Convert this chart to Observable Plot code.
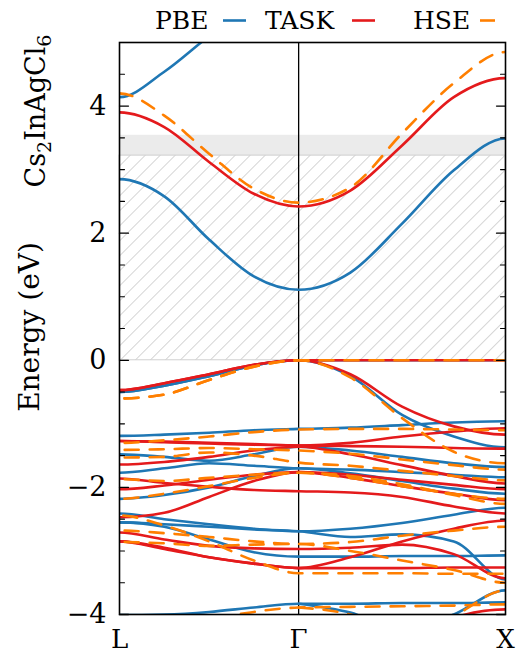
<!DOCTYPE html>
<html><head><meta charset="utf-8">
<script src="https://cdn.jsdelivr.net/npm/d3@7"></script>
<script src="https://cdn.jsdelivr.net/npm/@observablehq/plot@0.6"></script>
<style>
body{margin:0;background:#fff;font-family:"DejaVu Serif",serif;}
#wrap{position:relative;width:520px;height:656px;}
#legend{position:absolute;left:0;top:0;width:520px;height:38px;}
#chart{position:absolute;left:0;top:0;}
</style></head><body>
<div id="wrap"><div id="chart"></div><div id="legend"></div></div>
<script>
// ---- data ----
const kLabels = ["L", "Γ", "X"];
const kTicks = [0, 0.866, 1.866];
const kPoints = [0, 0.2165, 0.433, 0.6495, 0.866, 1.116, 1.366, 1.616, 1.866];
const methods = ["PBE", "TASK", "HSE"];
const colors = ["#1f77b4", "#e41a1c", "#ff7f00"];
const expGap = [3.22, 3.54];
const yMajor = [-4, -2, 0, 2, 4];
const yMinor = [-3.5, -3, -2.5, -1.5, -1, -0.5, 0.5, 1, 1.5, 2.5, 3, 3.5, 4.5];
const material = ["Cs", "2", "InAgCl", "6"];

// energies (eV) at kPoints: L ... Γ ... X
const pbeBands = [
  [2.85, 2.58, 1.90, 1.32, 1.11, 1.38, 2.15, 2.99, 3.49],
  [4.14, 4.54, 5.10, 5.60, 5.80, 5.90, 5.90, 5.90, 5.90],
  [-0.50, -0.40, -0.25, -0.08, 0, 0, 0, 0, 0],
  [-0.50, -0.40, -0.25, -0.08, 0, -0.25, -0.86, -1.20, -1.37],
  [-1.19, -1.17, -1.14, -1.10, -1.08, -1.06, -1.02, -0.98, -0.96],
  [-1.48, -1.52, -1.58, -1.48, -1.36, -1.42, -1.52, -1.62, -1.68],
  [-1.77, -1.70, -1.62, -1.66, -1.70, -1.72, -1.76, -1.80, -1.84],
  [-2.18, -2.12, -2.00, -1.82, -1.70, -1.78, -1.90, -2.02, -2.10],
  [-2.41, -2.50, -2.58, -2.65, -2.69, -2.65, -2.56, -2.43, -2.32],
  [-2.55, -2.62, -2.82, -3.02, -3.09, -3.09, -3.08, -3.08, -3.07],
  [-2.55, -2.58, -2.62, -2.66, -2.69, -2.78, -2.74, -2.85, -3.45],
  [-4.01, -4.00, -3.96, -3.89, -3.83, -3.83, -3.82, -3.82, -3.81],
  [null, null, null, null, -3.83, -3.97, -4.25, -4.00, -3.62]
];
const taskBands = [
  [3.90, 3.67, 3.12, 2.62, 2.42, 2.67, 3.38, 4.14, 4.44],
  [-0.47, -0.36, -0.22, -0.07, 0, 0, 0, 0, 0],
  [-0.47, -0.36, -0.22, -0.07, 0, -0.22, -0.73, -1.04, -1.17],
  [-1.27, -1.28, -1.30, -1.32, -1.34, -1.30, -1.20, -1.12, -1.07],
  [-1.27, -1.29, -1.31, -1.33, -1.34, -1.35, -1.36, -1.38, -1.39],
  [-1.64, -1.60, -1.52, -1.42, -1.36, -1.48, -1.65, -1.82, -1.94],
  [-1.86, -1.93, -1.99, -2.04, -2.06, -2.08, -2.15, -2.30, -2.41],
  [-2.03, -1.97, -1.88, -1.80, -1.76, -1.80, -1.88, -1.96, -2.03],
  [-2.47, -2.40, -2.15, -1.90, -1.76, -1.85, -1.98, -2.10, -2.20],
  [-2.71, -2.82, -2.92, -2.96, -2.97, -2.95, -2.90, -3.05, -3.43],
  [-2.85, -2.95, -3.10, -3.20, -3.27, -3.27, -3.27, -3.26, -3.26],
  [-2.85, -2.97, -3.10, -3.20, -3.27, -3.10, -2.85, -2.65, -2.52],
  [null, null, null, null, -4.50, -4.50, -4.40, -4.05, -3.92]
];
const hseBands = [
  [4.20, 3.85, 3.25, 2.70, 2.48, 2.72, 3.57, 4.36, 4.85],
  [-0.60, -0.54, -0.31, -0.10, 0, 0, 0, 0, 0],
  [-0.60, -0.54, -0.31, -0.10, 0, -0.27, -0.91, -1.44, -1.62],
  [-1.30, -1.26, -1.20, -1.13, -1.09, -1.08, -1.08, -1.09, -1.10],
  [-1.41, -1.40, -1.38, -1.40, -1.42, -1.47, -1.56, -1.65, -1.72],
  [-1.53, -1.52, -1.45, -1.50, -1.61, -1.66, -1.74, -1.82, -1.89],
  [-1.87, -1.90, -1.85, -1.80, -1.77, -1.85, -1.98, -2.10, -2.18],
  [-2.18, -2.10, -1.98, -1.85, -1.77, -1.82, -1.95, -2.12, -2.26],
  [-2.44, -2.60, -2.85, -3.15, -3.35, -3.35, -3.35, -3.36, -3.36],
  [-2.68, -2.72, -2.78, -2.85, -2.89, -2.86, -2.76, -2.68, -2.62],
  [-2.86, -2.88, -2.92, -2.90, -2.89, -3.00, -3.15, -3.30, -3.50],
  [-4.60, -4.40, -4.10, -3.96, -3.89, -3.88, -3.87, -3.86, -3.84],
  [null, null, null, null, -3.89, -4.00, -4.30, -4.02, -3.62]
];

// ---- build table (bands are symmetric about L and X: mirror the neighbour sample outside the frame) ----
const table = [];
const last = kPoints.length - 1;
[[pbeBands, methods[0]], [taskBands, methods[1]], [hseBands, methods[2]]].forEach(([bands, m]) =>
  bands.forEach((band, b) => {
    const id = m + b;
    if (band[0] !== null) table.push({method: m, band: id, k: 2 * kPoints[0] - kPoints[1], E: band[1]});
    band.forEach((E, j) => { if (E !== null) table.push({method: m, band: id, k: kPoints[j], E}); });
    table.push({method: m, band: id, k: 2 * kPoints[last] - kPoints[last - 1], E: band[last - 1]});
  })
);
const regions = [
  {kind: "hatch", y1: 0, y2: expGap[0]},
  {kind: "gap", y1: expGap[0], y2: expGap[1]}
];
const fmt = d => (d < 0 ? "\u2212" : "") + Math.abs(d);

const font = "'DejaVu Serif', serif";
const chart = Plot.plot({
  width: 520, height: 656,
  marginLeft: 119, marginRight: 15, marginTop: 42, marginBottom: 42,
  x: {domain: [kTicks[0], kTicks[2]]},
  y: {domain: [-4, 5]},
  style: {fontFamily: font, background: "white"},
  marks: [
    Plot.rect(regions, {filter: d => d.kind === "gap", y1: "y1", y2: "y2", fill: "#ebebeb"}),
    Plot.rect(regions, {filter: d => d.kind === "hatch", y1: "y1", y2: "y2", fill: "url(#hatch)", stroke: "#d0d0d0", strokeWidth: 1}),
    Plot.ruleX([kTicks[1]], {stroke: "black", strokeWidth: 1.3}),
    Plot.line(table, {filter: d => d.method === "PBE", x: "k", y: "E", z: "band", stroke: colors[0], strokeWidth: 2.6, curve: "monotone-x", clip: true}),
    Plot.line(table, {filter: d => d.method === "TASK", x: "k", y: "E", z: "band", stroke: colors[1], strokeWidth: 2.6, curve: "monotone-x", clip: true}),
    Plot.line(table, {filter: d => d.method === "HSE", x: "k", y: "E", z: "band", stroke: colors[2], strokeWidth: 2.6, strokeDasharray: "14,11", curve: "monotone-x", clip: true}),
    Plot.frame({stroke: "black", strokeWidth: 1.6}),
    Plot.vector(yMajor, {y: d => d, frameAnchor: "left", rotate: 90, length: 9, anchor: "start", r: 0, stroke: "black", strokeWidth: 1.3}),
    Plot.vector(yMajor, {y: d => d, frameAnchor: "right", rotate: -90, length: 9, anchor: "start", r: 0, stroke: "black", strokeWidth: 1.3}),
    Plot.vector(yMinor, {y: d => d, frameAnchor: "left", rotate: 90, length: 5, anchor: "start", r: 0, stroke: "black", strokeWidth: 1.1}),
    Plot.vector(yMinor, {y: d => d, frameAnchor: "right", rotate: -90, length: 5, anchor: "start", r: 0, stroke: "black", strokeWidth: 1.1}),
    Plot.axisY(yMajor, {tickSize: 0, tickPadding: 13, fontSize: 27, fontFamily: font, label: null, tickFormat: fmt}),
    Plot.axisX(kTicks, {tickSize: 0, tickPadding: 15, fontSize: 26, fontFamily: font, label: null, tickFormat: d => kLabels[kTicks.indexOf(d)]})
  ]
});
document.getElementById("chart").appendChild(chart);

const svg = d3.select(chart);
const defs = svg.insert("defs", ":first-child");
const pat = defs.append("pattern").attr("id", "hatch").attr("patternUnits", "userSpaceOnUse")
  .attr("width", 10.6).attr("height", 10.6).attr("patternTransform", "rotate(45)");
pat.append("line").attr("x1", 0).attr("y1", 0).attr("x2", 0).attr("y2", 10.6)
  .attr("stroke", "#c4c4c4").attr("stroke-width", 1.4);

// y-axis title and material label
svg.append("text").attr("transform", "translate(39,327) rotate(-90)")
  .attr("text-anchor", "middle").style("font-family", font).attr("font-size", 28).attr("fill", "black")
  .text("Energy (eV)");
const mt = svg.append("text").attr("transform", "translate(45,111) rotate(-90)")
  .attr("text-anchor", "middle").style("font-family", font).attr("font-size", 27).attr("fill", "black");
mt.append("tspan").text(material[0]);
mt.append("tspan").attr("dy", 6).attr("font-size", 19).text(material[1]);
mt.append("tspan").attr("dy", -6).text(material[2]);
mt.append("tspan").attr("dy", 6).attr("font-size", 19).text(material[3]);

// legend
const lg = d3.select("#legend").append("svg").attr("width", 520).attr("height", 38);
const legendPos = [{tx: 155, lx: 223}, {tx: 265, lx: 352}, {tx: 413, lx: 480}];
methods.forEach((m, i) => {
  lg.append("text").attr("x", legendPos[i].tx).attr("y", 29).style("font-family", font)
    .attr("font-size", 25).attr("fill", "black").text(m);
  lg.append("line").attr("x1", legendPos[i].lx).attr("x2", legendPos[i].lx + (i === 2 ? 15 : 23))
    .attr("y1", 20.5).attr("y2", 20.5).attr("stroke", colors[i]).attr("stroke-width", 2.6);
});
</script>
</body></html>
